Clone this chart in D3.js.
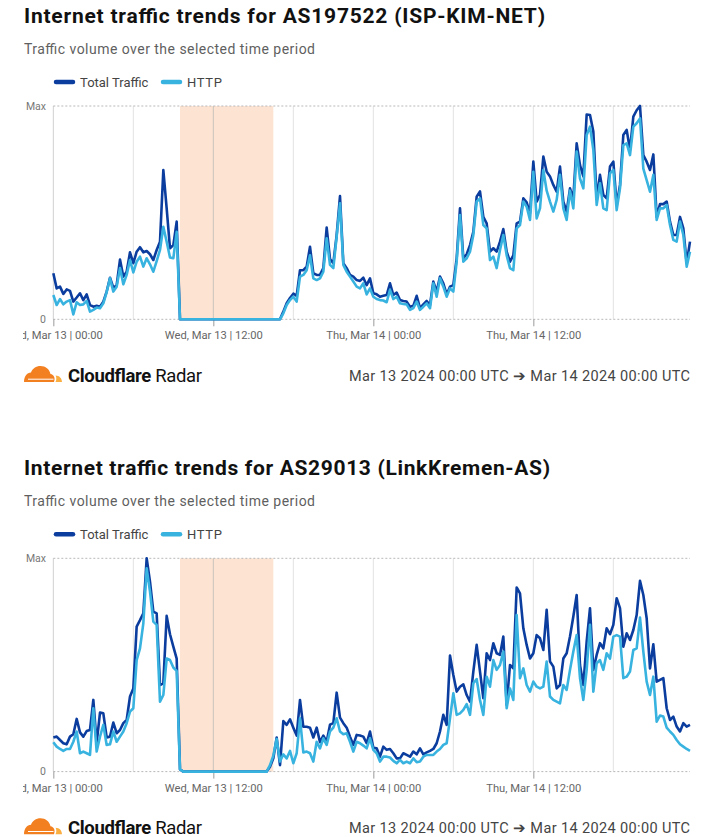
<!DOCTYPE html>
<html><head><meta charset="utf-8">
<script src="https://cdn.jsdelivr.net/npm/d3@7"></script>
<style>body{margin:0;background:#fff;}svg{display:block;font-family:Roboto,"Noto Sans",sans-serif;}</style>
</head><body>
<svg id="c" width="720" height="837"></svg>
<script>
const seriesNames = ["Total Traffic", "HTTP"];
const titles = ["Internet traffic trends for AS197522 (ISP-KIM-NET)", "Internet traffic trends for AS29013 (LinkKremen-AS)"];
const subtitle = "Traffic volume over the selected time period";
const tickLabels = ["Wed, Mar 13 | 00:00", "Wed, Mar 13 | 12:00", "Thu, Mar 14 | 00:00", "Thu, Mar 14 | 12:00"];
const yLabels = ["0", "Max"];
const footerRange = "Mar 13 2024 00:00 UTC \u2794 Mar 14 2024 00:00 UTC";
const outageHours = [9.5, 16.5];

// values as % of Max, one point every 15 minutes from Mar 13 00:00 UTC
const total1 = [21.6,14.5,15.3,11.9,14,13.3,8.3,10.2,12.2,9,11.7,6.7,5.9,6.3,5.9,8.3,13,19.5,14.8,16,28,20,22.3,31.4,26.3,31.7,33.8,31.4,32,30.5,27.8,32.5,36.4,70,52,33.3,34.8,45.8,
0,0,0,0,0,0,0,0,0,0,0,0,0,0,0,0,0,0,0,0,0,0,0,0,0,0,0,0,0,0,0,
3.6,7.5,10,12,11,23,23,24.7,34,21.6,20.8,20.8,24,43,28.3,26.3,39.5,57.8,26.3,24,20.8,20,18.4,18,
19.5,16,19.2,12.2,11.7,10.6,11,11.4,16.9,11.4,12.5,9,8.6,8.3,5.9,6.3,11,5.2,7,8.6,6.7,17.7,13,20,16.9,11.7,15.3,16,28.6,52,28.6,30.5,34.8,41,57.5,60,48,45,31.7,33.3,31.7,36.4,42.3,31.7,27,30,45,45.8,56.7,54.8,49.7,73.9,55.2,58.3,76.3,69.2,67,63,59.8,71.6,55.2,50.5,61.4,56.7,82.5,72.3,67,96,95.8,88,56.7,67.7,58.3,56.7,71.6,73.9,53.6,63,86.4,88.8,79.4,95,98,100,77,73.9,70,77.3,48,54,54,55.2,45.8,39.5,39.5,48,42.6,26.3,36.4];
const http1 = [11.4,6.7,9.5,7,8.3,9,2.3,8,6.7,7,8.6,3.6,4.4,5.5,5.2,7.5,12.7,19.2,13,15.3,24,16.4,20.8,27.8,22,27,29.4,24.7,28.6,25.8,22.3,27.3,32.5,43.4,36.4,29,28.6,41,
0,0,0,0,0,0,0,0,0,0,0,0,0,0,0,0,0,0,0,0,0,0,0,0,0,0,0,0,0,0,0,
2.8,6.7,9,10.6,8.3,20,20.8,23,30,19.2,18.4,19.2,22.3,38,25.5,24,38.8,54.4,25.5,22.3,20,17.7,15.3,14.5,
16.9,11.7,14.5,10.6,9.5,9,8.8,8,13.8,9.5,10.6,7.5,7.2,7,4.4,5.2,8.3,4.4,5.9,7.5,5.2,16.9,10.6,19.2,15.3,10.6,14.5,13,27,48.9,27,28.6,31.7,39.5,55.2,56.7,44.2,42.6,27.8,29.4,24,32.5,39.5,30,24,23,42.6,44.2,55.2,52.8,46.6,69.2,47.3,52,70,60.3,55.2,50.5,56,67.7,52,46.6,60.3,52,78.6,66,61.4,86.4,90.3,79.4,53.6,63.8,52,51.2,68.4,70,51.2,61.4,81.7,82.5,77,90.3,91.9,94.2,70.6,65.3,59.8,67.7,46.6,52,52,53.6,44.2,37.2,36.4,45.8,39.5,24.7,31.7];
const total2 = [16,16.4,14.8,13.3,12.8,16.4,17.5,24.7,18.4,16.4,19,19.5,33.6,13.3,27.7,27.3,16,16.4,23,18,19.5,22.7,24.2,35.2,39,68,71,74.2,100,89,75,74.2,40.6,41.4,73,64.4,58.6,53,1,
0,0,0,0,0,0,0,0,0,0,0,0,0,0,0,0,0,0,0,0,0,0,0,0,0,0,
2.3,6.2,16,3,23.7,21.9,24.5,20.6,16.9,33.6,21,21,20.6,16,20.6,13.8,16.9,14,22,22.7,37,25.3,22.7,20.6,16.4,12.5,17.2,16.9,
16.4,13.3,18.8,11.2,10.9,7,11.7,10.2,10.6,8.6,6.2,6.2,8.6,7.8,7,9.4,8.1,10.9,8.1,9,9.7,10.6,13.3,18.8,26.6,21.9,54.4,45.3,37.5,39.8,40.9,35.9,32.8,46.9,59.4,46.9,34.4,55.5,52.3,60.2,55.5,54.7,63.3,31.3,50,48.4,86.3,83.6,67.2,59.4,53,55.5,64,62.5,57,75.8,51.6,49.2,39,40.6,53,55.5,63.3,72.7,82.8,50,40.6,60.9,76.6,47.7,54.7,60.2,57.8,67.2,64.4,68.8,81.3,76.6,58.6,64.8,61.7,66.4,73.4,89.4,82.8,71.9,48.4,59.7,42.2,43,43.8,29.7,24.2,25.8,21.1,18.8,22.7,21.1,21.9];
const http2 = [13.8,11.7,10.6,9.7,10.6,10.6,14,18.8,8.6,9.4,8.6,7.8,29.7,9.4,16.4,21.9,12.5,12.8,18.8,14,16.4,18.8,22.7,28.1,29.7,52.3,57.8,69.5,95.3,84.4,70.3,68.8,32.8,35.9,53,52.3,48.8,47.2,1,
0,0,0,0,0,0,0,0,0,0,0,0,0,0,0,0,0,0,0,0,0,0,0,0,0,0,
3,7.5,15.3,4.7,8.1,6.2,9.7,3.9,8.6,25,9,9.4,8.6,4.7,14,10.9,15.6,12.5,18.8,20.6,25,18.8,17.5,18,14,9.4,14,13.3,
12.2,10.9,15.6,10.2,8.6,4.7,7,7,6.6,5,3.9,5.5,3.9,4.7,3.9,6.2,4.4,4.7,7,7.8,7.8,7.8,9.4,10.6,12.5,13.3,25,36.7,26.6,27.3,28.9,31.6,26.6,41.4,43.4,33.6,26.6,44.5,39.8,52.3,47.7,50,56.3,29.7,39,33.6,73.4,43.8,48.4,40.6,37.5,42.2,39.8,39,39.8,51.6,35.2,33.6,32.8,32,40.6,38.3,47.7,56.3,64,43.8,33.6,47.7,68.8,37.5,50.8,52.3,47.7,55.5,53,63.3,64,63.3,43.8,44.5,46.9,57,57.8,72.2,56.3,42.2,35.9,44.5,23.4,26.3,25.8,20.6,18.8,17.2,14.8,12.8,11.7,10.6,9.7];

const COLORS = {total: "#0b3d9f", http: "#38b3e0"};
const HOUR = 3600e3, STEP = 15 * 60e3;
const t0 = Date.UTC(2024, 2, 13, 0, 0);

const svg = d3.select("#c");
svg.append("defs").append("clipPath").attr("id", "clipL")
  .append("rect").attr("x", 23).attr("y", -2000).attr("width", 697).attr("height", 4000);

const x = d3.scaleUtc().domain([t0, t0 + 191 * STEP]).range([53.33, 690]);

function fit(sel, w) {
  const n = sel.node().getComputedTextLength();
  if (w && Math.abs(n - w) > 1) sel.attr("textLength", w).attr("lengthAdjust", "spacing");
  return sel;
}

function chart(oy, title, titleW, total, http) {
  const g = svg.append("g").attr("transform", `translate(0,${oy})`);
  const y = d3.scaleLinear().domain([0, 100]).range([319.3, 106]);

  fit(g.append("text").attr("x", 24).attr("y", 23).attr("font-size", 21).attr("font-weight", 700)
    .attr("fill", "#111").text(title), titleW);
  fit(g.append("text").attr("x", 24).attr("y", 54).attr("font-size", 14).attr("fill", "#5f5f5f")
    .text(subtitle), 291);

  // legend
  const leg = [{n: seriesNames[0], c: COLORS.total, x0: 56, x1: 73, tx: 80, w: 68},
               {n: seriesNames[1], c: COLORS.http, x0: 163, x1: 180, tx: 187, w: 35}];
  leg.forEach(l => {
    g.append("line").attr("x1", l.x0).attr("x2", l.x1).attr("y1", 82).attr("y2", 82)
      .attr("stroke", l.c).attr("stroke-width", 4.5).attr("stroke-linecap", "round");
    fit(g.append("text").attr("x", l.tx).attr("y", 86.5).attr("font-size", 13).attr("fill", "#444").text(l.n), l.w);
  });

  // outage shading
  g.append("rect").attr("x", x(t0 + outageHours[0] * HOUR)).attr("y", y(100))
    .attr("width", x(t0 + outageHours[1] * HOUR) - x(t0 + outageHours[0] * HOUR))
    .attr("height", y(0) - y(100)).attr("fill", "#fde3d1");

  // vertical gridlines every 6h
  const grid = d3.range(1, 8).map(k => t0 + k * 6 * HOUR);
  g.selectAll(null).data(grid).join("line")
    .attr("x1", d => x(d)).attr("x2", d => x(d)).attr("y1", y(100)).attr("y2", y(0))
    .attr("stroke", (d, i) => (i === 1 ? "#c9c3bf" : "#e2e2e2")).attr("stroke-width", 1);
  g.append("line").attr("x1", x(t0)).attr("x2", x(t0)).attr("y1", y(100)).attr("y2", y(0))
    .attr("stroke", "#d0d0d0");

  // dashed max / zero lines
  [0, 100].forEach(v => g.append("line").attr("x1", x(t0)).attr("x2", 690)
    .attr("y1", y(v)).attr("y2", y(v)).attr("stroke", "#b8b8b8").attr("stroke-dasharray", "2,2"));
  [0, 100].forEach((v, i) => g.append("text").attr("x", 46).attr("y", y(v) + 3.5)
    .attr("text-anchor", "end").attr("font-size", 10.5).attr("fill", "#777").text(yLabels[i]));

  // x axis
  const ax = d3.axisBottom(x).tickValues([0, 12, 24, 36].map(h => t0 + h * HOUR))
    .tickFormat((d, i) => tickLabels[i]).tickSize(7).tickPadding(5);
  const axg = g.append("g").attr("transform", `translate(0,${y(0)})`).attr("clip-path", "url(#clipL)").call(ax);
  axg.select(".domain").remove();
  axg.selectAll(".tick line").attr("stroke", "#9a9a9a");
  axg.selectAll(".tick text").attr("font-size", 11.2).attr("fill", "#666").attr("font-family", "Roboto,sans-serif");

  // lines
  const line = d3.line().x((d, i) => x(t0 + i * STEP)).y(d => y(d)).curve(d3.curveLinear);
  g.append("path").datum(total).attr("d", line).attr("fill", "none").attr("stroke", COLORS.total)
    .attr("stroke-width", 2.6).attr("stroke-linejoin", "round");
  g.append("path").datum(http).attr("d", line).attr("fill", "none").attr("stroke", COLORS.http)
    .attr("stroke-width", 2.6).attr("stroke-linejoin", "round");

  // footer: logo
  const lg = g.append("g").attr("transform", "translate(24,366)");
  lg.append("path").attr("fill", "#f38020")
    .attr("d", "M0,16 L30,16 C31.5,12 30,8.5 26.5,8 C25.5,3 21.5,0 16.5,0 C12,0 8.5,2.5 7,6.5 C3,6.5 0,10.5 0,16 Z");
  lg.append("path").attr("fill", "#faae40")
    .attr("d", "M31.5,16 L38,16 C38,12.2 35.3,9.4 31.6,9.4 C32.6,11.5 32.6,13.8 31.5,16 Z");
  lg.append("path").attr("fill", "none").attr("stroke", "#fff").attr("stroke-width", 1)
    .attr("d", "M4,13.2 L29.5,13.2");
  const ft = g.append("text").attr("x", 68).attr("y", 382).attr("font-size", 18.5).attr("fill", "#111");
  ft.append("tspan").attr("font-weight", 700).text("Cloudflare");
  ft.append("tspan").attr("font-weight", 400).text(" Radar");
  fit(ft, 134);
  fit(g.append("text").attr("x", 349).attr("y", 381).attr("font-size", 14.5).attr("fill", "#444")
    .text(footerRange), 341);
}

chart(0, titles[0], 521, total1, http1);
chart(452.3, titles[1], 526, total2, http2);
</script>
</body></html>
